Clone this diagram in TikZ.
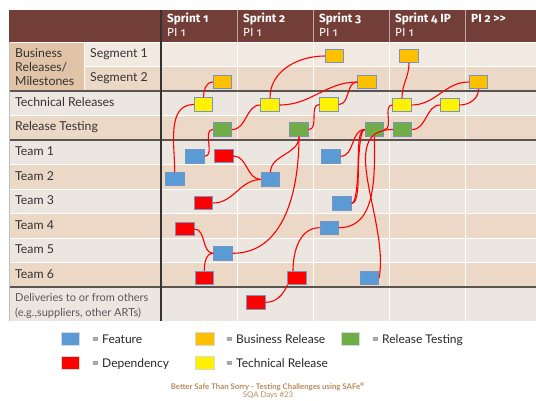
\documentclass[tikz,border=0pt]{standalone}
\usepackage{fontspec}
\setmainfont{Lato}
\newfontfamily\headfont[Numbers=OldStyle]{Fira Sans}
\usetikzlibrary{positioning}

\definecolor{header}{RGB}{115,62,55}
\definecolor{rowlight}{RGB}{235,230,224}
\definecolor{rowpeach}{RGB}{236,216,198}
\definecolor{rowtop}{RGB}{242,233,224}
\definecolor{busicell}{RGB}{225,196,167}
\definecolor{sepline}{RGB}{92,84,80}
\definecolor{boxedge}{RGB}{120,148,192}
\definecolor{featblue}{RGB}{91,155,213}
\definecolor{busorange}{RGB}{255,192,0}
\definecolor{testgreen}{RGB}{112,173,71}
\definecolor{footer}{RGB}{185,138,94}

\tikzstyle{taskbox} = [rectangle, draw=boxedge, line width=0.8pt, minimum width=18.5pt, minimum height=13.5pt, inner sep=0pt]
\tikzstyle{feature} = [taskbox, fill=featblue]
\tikzstyle{dependency} = [taskbox, fill=red]
\tikzstyle{busrel} = [taskbox, fill=busorange]
\tikzstyle{techrel} = [taskbox, fill=yellow]
\tikzstyle{reltest} = [taskbox, fill=testgreen]
\tikzstyle{deplink} = [red, line width=1.1pt]
\tikzstyle{rowlabel} = [anchor=base west, inner sep=0pt, text=black!80, font=\fontsize{12.3}{14}\selectfont]
\tikzstyle{sprintlabel} = [anchor=base west, inner sep=0pt, text=white, font=\headfont\bfseries\fontsize{11.8}{13}\selectfont]
\tikzstyle{pilabel} = [anchor=base west, inner sep=0pt, text=white, font=\headfont\fontsize{11.8}{13}\selectfont]
\tikzstyle{legendtext} = [anchor=base west, inner sep=0pt, text=black!85, font=\fontsize{12}{14}\selectfont]

\begin{document}
\begin{tikzpicture}[x=1pt, y=-1pt]
		\useasboundingbox (0,0) rectangle (536,400);
		
		% table background
		\fill[header] (9,10) rectangle (536,42);
		\fill[rowtop] (84,42) rectangle (536,66);
		\fill[rowpeach] (84,66) rectangle (536,91);
		\fill[busicell] (9,42) rectangle (84,91);
		\fill[rowlight] (9,91) rectangle (536,115);
		\fill[rowpeach] (9,115) rectangle (536,140);
		\fill[rowlight] (9,140) rectangle (536,164);
		\fill[rowpeach] (9,164) rectangle (536,189);
		\fill[rowlight] (9,189) rectangle (536,213);
		\fill[rowpeach] (9,213) rectangle (536,238);
		\fill[rowlight] (9,238) rectangle (536,262);
		\fill[rowpeach] (9,262) rectangle (536,287);
		\fill[rowlight] (9,287) rectangle (536,321);
		
		\draw[white, line width=0.8pt] (84,66) -- (536,66) (9,115) -- (536,115)
			(9,164) -- (536,164) (9,189) -- (536,189) (9,213) -- (536,213)
			(9,238) -- (536,238) (9,262) -- (536,262) (84,42) -- (84,91)
			(9,42) -- (536,42);
		\draw[white, line width=0.8pt] (237,42) -- (237,321) (313,42) -- (313,321)
			(389,42) -- (389,321) (465,42) -- (465,321);
		\draw[header!45!white, line width=0.7pt] (237,10) -- (237,42) (313,10) -- (313,42)
			(389,10) -- (389,42) (465,10) -- (465,42);
		\draw[sepline, line width=1.2pt] (9,91) -- (536,91) (9,140) -- (536,140) (9,287) -- (536,287);
		\draw[black!80, line width=1.2pt] (161,10) -- (161,321);
		\draw[black!25, line width=0.6pt] (9,42) -- (9,321);
		
		% sprint headings
		\node[sprintlabel] (s1) at (167,22) {Sprint 1};
		\node[pilabel] (p1) at (167,36) {PI 1};
		\node[sprintlabel] (s2) at (243,22) {Sprint 2};
		\node[pilabel] (p2) at (243,36) {PI 1};
		\node[sprintlabel] (s3) at (319,22) {Sprint 3};
		\node[pilabel] (p3) at (319,36) {PI 1};
		\node[sprintlabel] (s4) at (395,22) {Sprint 4 IP};
		\node[pilabel] (p4) at (395,36) {PI 1};
		\node[sprintlabel] (s5) at (471,22) {PI 2 >>};
		
		% row headings
		\node[rowlabel] (busi) at (15,57) {Business};
		\node[rowlabel] (rel) at (15,71) {Releases/};
		\node[rowlabel] (miles) at (15,85.5) {Milestones};
		\node[rowlabel] (seg1) at (90,57) {Segment 1};
		\node[rowlabel] (seg2) at (90,81.5) {Segment 2};
		\node[rowlabel] (tech) at (15,106) {Technical Releases};
		\node[rowlabel] (test) at (15,130.5) {Release Testing};
		\node[rowlabel] (team1) at (15,155.5) {Team 1};
		\node[rowlabel] (team2) at (15,180) {Team 2};
		\node[rowlabel] (team3) at (15,204.5) {Team 3};
		\node[rowlabel] (team4) at (15,229) {Team 4};
		\node[rowlabel] (team5) at (15,253.5) {Team 5};
		\node[rowlabel] (team6) at (15,278) {Team 6};
		\node[rowlabel, text=black!65, font=\fontsize{11}{13}\selectfont] (deliv) at (15,301.5) {Deliveries to or from others};
		\node[rowlabel, text=black!65, font=\fontsize{11}{13}\selectfont] (others) at (15,316) {(e.g.,suppliers, other ARTs)};
		
		% business releases
		\node[busrel] (br1) at (222.5,82) {};
		\node[busrel] (br2) at (334.5,56) {};
		\node[busrel] (br3) at (367,82) {};
		\node[busrel] (br4) at (409,56) {};
		\node[busrel] (br5) at (478.5,82) {};
		
		% technical releases
		\node[techrel] (tr1) at (203.5,104.5) {};
		\node[techrel] (tr2) at (270,105) {};
		\node[techrel] (tr3) at (329,104.5) {};
		\node[techrel] (tr4) at (402,105) {};
		\node[techrel] (tr5) at (450,105) {};
		
		% release testing
		\node[reltest] (rt1) at (222.5,129.5) {};
		\node[reltest] (rt2) at (299,129.5) {};
		\node[reltest] (rt3) at (374.5,129.5) {};
		\node[reltest] (rt4) at (402.5,129.5) {};
		
		% features
		\node[feature] (f1) at (195,156.3) {};
		\node[feature] (f2) at (174.7,179) {};
		\node[feature] (f3) at (270.5,179.5) {};
		\node[feature] (f4) at (223,253.3) {};
		\node[feature] (f5) at (331,156.3) {};
		\node[feature] (f6) at (342,203.3) {};
		\node[feature] (f7) at (329.3,227.7) {};
		\node[feature] (f8) at (369.5,278) {};
		
		% dependencies
		\node[dependency] (d1) at (223.7,156) {};
		\node[dependency] (d2) at (203.5,203) {};
		\node[dependency] (d3) at (184.7,229) {};
		\node[dependency] (d4) at (204.3,278) {};
		\node[dependency] (d5) at (297,278) {};
		\node[dependency] (d6) at (256,302.3) {};
		
		\draw[deplink] (tr1.north) to[out=90, in=180] (br1.west);
		\draw[deplink] (f2.north) to[out=90, in=180] (tr1.west);
		\draw[deplink] (f1.east) to[out=0, in=180] (rt1.west);
		\draw[deplink] (rt1.east) to[out=0, in=180] (tr2.west);
		\draw[deplink] (tr2.north) to[out=90, in=180] (br2.west);
		\draw[deplink] (tr2.east) to[out=0, in=180] (br3.west);
		\draw[deplink] (tr3.east) to[out=0, in=180] (br3.west);
		\draw[deplink] (rt2.east) to[out=0, in=180] (tr3.west);
		\draw[deplink] (f3.north) to[out=90, in=-90] (rt2.south);
		\draw[deplink] (f4.east) to[out=0, in=-90] (rt2.south);
		\draw[deplink] (d1.east) to[out=0, in=180] (f3.west);
		\draw[deplink] (d2.east) to[out=0, in=180] (f3.west);
		\draw[deplink] (d3.east) to[out=0, in=180] (f4.west);
		\draw[deplink] (d4.north) to[out=90, in=180] (f4.west);
		\draw[deplink] (d6.east) to[out=0, in=-115] (d5.south west);
		\draw[deplink] ([xshift=-4pt]d5.north) to[out=90, in=180] (f7.west);
		\draw[deplink] (f5.east) to[out=0, in=180] (rt3.west);
		\draw[deplink] (f6.east) to[out=0, in=180, looseness=0.3] (rt3.west);
		\draw[deplink] (f6.east) to[out=0, in=180, looseness=0.45] (rt3.west);
		\draw[deplink] (rt3.south) to[out=-90, in=0] (f7.east);
		\draw[deplink] (rt3.east) to[out=0, in=180] (tr4.west);
		\draw[deplink] (f8.east) to[out=80, in=180] (rt4.west);
		\draw[deplink] (rt4.east) to[out=0, in=180] (tr5.west);
		\draw[deplink] (tr4.east) to[out=0, in=180] (br5.west);
		\draw[deplink] (tr5.east) to[out=0, in=-90] (br5.south);
		\draw[deplink] (tr4.north) to[out=90, in=-90] (br4.south);
		
		% legend
		\node[feature, draw=black!15] (kf) at (70.5,339) {};
		\node[legendtext] (kft) at (92,343.5) {= Feature};
		\node[dependency, draw=black!15] (kd) at (70.5,363) {};
		\node[legendtext] (kdt) at (92,367) {= Dependency};
		\node[busrel, draw=black!15] (kb) at (205,339) {};
		\node[legendtext] (kbt) at (226,343.5) {= Business Release};
		\node[techrel, draw=black!15] (kt) at (205,363) {};
		\node[legendtext] (ktt) at (226,367) {= Technical Release};
		\node[reltest, draw=black!15] (kr) at (350.5,339) {};
		\node[legendtext] (krt) at (372,343.5) {= Release Testing};
		
		% footer
		\node[anchor=base, inner sep=0pt, text=footer, font=\bfseries\fontsize{7.8}{8}\selectfont] (foot) at (268,389) {Better Safe Than Sorry - Testing Challenges using SAFe\textsuperscript{\textregistered}};
		\node[anchor=base, inner sep=0pt, text=footer, font=\fontsize{7.8}{8}\selectfont] (days) at (268,397) {SQA Days \#23};
	\end{tikzpicture}
\end{document}
